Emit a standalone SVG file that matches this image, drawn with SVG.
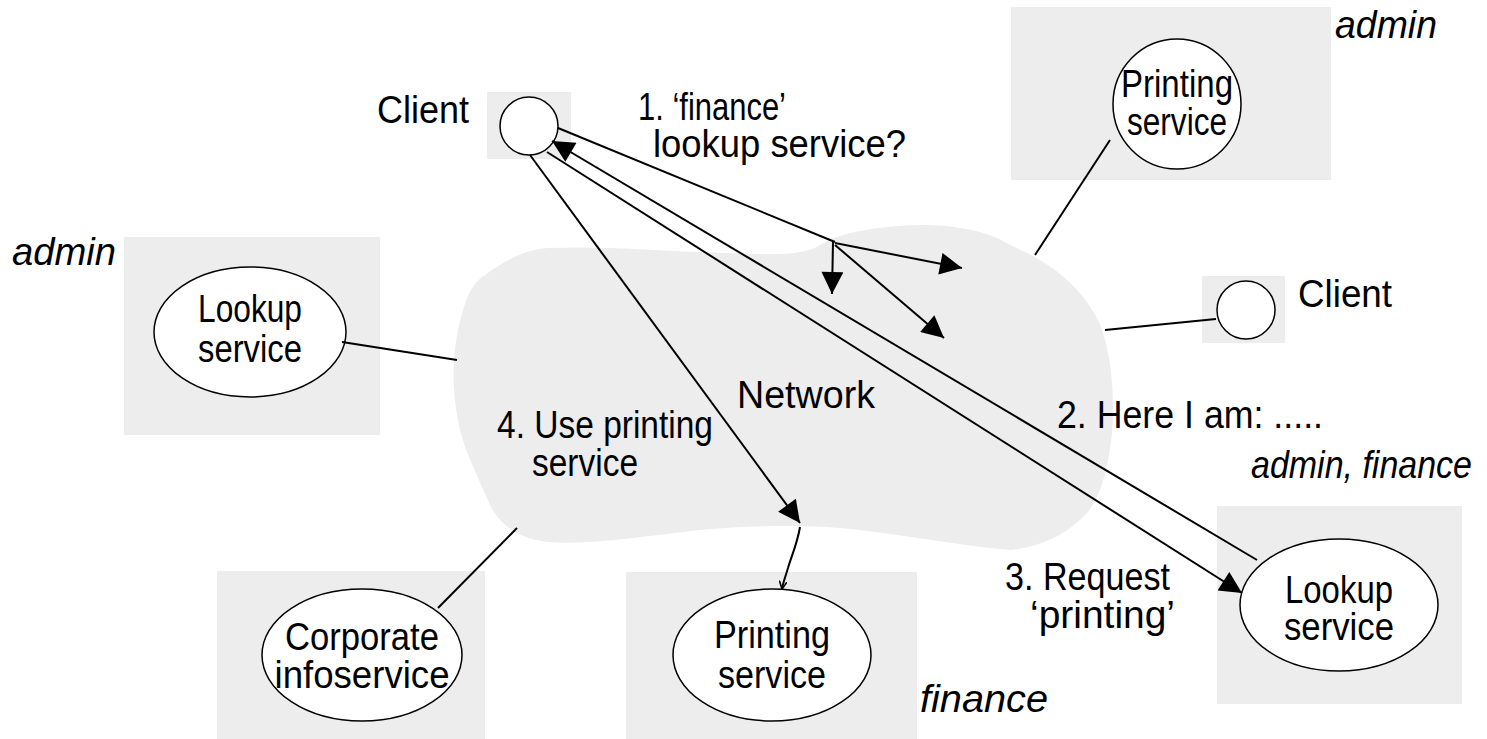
<svg xmlns="http://www.w3.org/2000/svg" width="1487" height="739" viewBox="0 0 1487 739">
<defs>
<style>
.box{fill:#ededed;stroke:none}
.ell{fill:#fff;stroke:#000;stroke-width:1.5}
.t{font-family:"Liberation Sans",Arial,sans-serif;font-size:38px;fill:#000}
.c{text-anchor:middle}
.i{font-style:italic}
.ln{stroke:#000;stroke-width:2;fill:none}
</style>
<marker id="ah" viewBox="0 0 10 10" refX="10" refY="5" markerWidth="24" markerHeight="22" markerUnits="userSpaceOnUse" orient="auto">
<path d="M0,0 L10,5 L0,10 Z" fill="#000"/>
</marker>
<marker id="ahs" viewBox="0 0 10 10" refX="10" refY="5" markerWidth="8" markerHeight="8" markerUnits="userSpaceOnUse" orient="auto">
<path d="M0,0 L10,5 L0,10" fill="none" stroke="#000" stroke-width="2"/>
</marker>
</defs>
<rect width="1487" height="739" fill="#fff"/>

<g id="network">
<path class="box" d="M547,248 C600,246 650,250 700,252 C760,254 800,258 820,245 C840,232 880,226 920,225 C960,225 990,232 1010,245 C1050,262 1080,285 1098,320 C1112,350 1115,400 1112,433 C1108,470 1100,500 1085,515 C1070,530 1050,545 1011,550 C950,545 880,530 827,527 C780,525 740,526 700,530 C640,537 590,545 549,542 C520,540 500,525 490,505 C475,470 462,445 458,420 C452,390 452,360 458,330 C465,300 470,285 485,275 C505,260 525,250 547,248 Z"/>
<text class="t" x="737" y="408" textLength="138" lengthAdjust="spacingAndGlyphs">Network</text>
</g>

<g id="client-top">
<rect class="box" x="487" y="92" width="84" height="67"/>
<circle class="ell" cx="529" cy="126" r="29" stroke-width="2"/>
<text class="t" x="377" y="123" textLength="92" lengthAdjust="spacingAndGlyphs">Client</text>
</g>

<g id="printing-admin">
<rect class="box" x="1011" y="7" width="320" height="173"/>
<ellipse class="ell" cx="1177" cy="104" rx="64" ry="65"/>
<text class="t c" x="1177" y="97" textLength="112" lengthAdjust="spacingAndGlyphs">Printing</text>
<text class="t c" x="1177" y="135" textLength="100" lengthAdjust="spacingAndGlyphs">service</text>
<text class="t i" x="1335" y="38" textLength="102" lengthAdjust="spacingAndGlyphs">admin</text>
</g>

<g id="client-right">
<rect class="box" x="1202" y="276" width="83" height="67"/>
<circle class="ell" cx="1246" cy="310" r="29" stroke-width="2"/>
<text class="t" x="1298" y="307" textLength="94" lengthAdjust="spacingAndGlyphs">Client</text>
</g>

<g id="lookup-admin">
<rect class="box" x="124" y="237" width="256" height="198"/>
<ellipse class="ell" cx="250" cy="332" rx="96" ry="65"/>
<text class="t c" x="250" y="322" textLength="104" lengthAdjust="spacingAndGlyphs">Lookup</text>
<text class="t c" x="250" y="362" textLength="104" lengthAdjust="spacingAndGlyphs">service</text>
<text class="t i" x="12" y="265" textLength="104" lengthAdjust="spacingAndGlyphs">admin</text>
</g>

<g id="corporate">
<rect class="box" x="217" y="571" width="268" height="168"/>
<ellipse class="ell" cx="362" cy="655" rx="100" ry="66"/>
<text class="t c" x="362" y="650" textLength="154" lengthAdjust="spacingAndGlyphs">Corporate</text>
<text class="t c" x="362" y="688" textLength="175" lengthAdjust="spacingAndGlyphs">infoservice</text>
</g>

<g id="printing-finance">
<rect class="box" x="626" y="572" width="291" height="167"/>
<ellipse class="ell" cx="772" cy="655" rx="99" ry="66"/>
<text class="t c" x="772" y="648" textLength="116" lengthAdjust="spacingAndGlyphs">Printing</text>
<text class="t c" x="772" y="688" textLength="108" lengthAdjust="spacingAndGlyphs">service</text>
<text class="t i" x="920" y="712" textLength="128" lengthAdjust="spacingAndGlyphs">finance</text>
</g>

<g id="lookup-adminfinance">
<rect class="box" x="1217" y="506" width="245" height="198"/>
<ellipse class="ell" cx="1339" cy="605" rx="99" ry="66"/>
<text class="t c" x="1339" y="603" textLength="108" lengthAdjust="spacingAndGlyphs">Lookup</text>
<text class="t c" x="1339" y="640" textLength="110" lengthAdjust="spacingAndGlyphs">service</text>
<text class="t i" x="1251" y="478" textLength="221" lengthAdjust="spacingAndGlyphs">admin, finance</text>
</g>

<g id="connectors">
<line class="ln" x1="1035" y1="255" x2="1110" y2="140"/>
<line class="ln" x1="1105" y1="330" x2="1216" y2="319"/>
<line class="ln" x1="342" y1="342" x2="457" y2="360"/>
<line class="ln" x1="438" y1="608" x2="517" y2="528"/>
<line class="ln" x1="558" y1="128" x2="835" y2="242"/>
<line class="ln" x1="833" y1="242" x2="832" y2="294" marker-end="url(#ah)"/>
<line class="ln" x1="835" y1="243" x2="962" y2="268" marker-end="url(#ah)"/>
<line class="ln" x1="835" y1="245" x2="944" y2="338" marker-end="url(#ah)"/>
<line class="ln" x1="1257" y1="560" x2="552" y2="141" marker-end="url(#ah)"/>
<line class="ln" x1="547" y1="152" x2="1242" y2="593" marker-end="url(#ah)"/>
<line class="ln" x1="530" y1="155" x2="800" y2="523" marker-end="url(#ah)"/>
<path class="ln" d="M800,527 C797,545 790,560 788,568 C785,578 783,583 782,589" marker-end="url(#ahs)"/>
</g>

<g id="labels">
<text class="t" x="638" y="120" textLength="148" lengthAdjust="spacingAndGlyphs">1. ‘finance’</text>
<text class="t" x="653" y="157" textLength="253" lengthAdjust="spacingAndGlyphs">lookup service?</text>
<text class="t" x="1057" y="428" textLength="266" lengthAdjust="spacingAndGlyphs">2. Here I am: .....</text>
<text class="t" x="1005" y="590" textLength="165" lengthAdjust="spacingAndGlyphs">3. Request</text>
<text class="t" x="1030" y="628" textLength="145" lengthAdjust="spacingAndGlyphs">‘printing’</text>
<text class="t" x="497" y="438" textLength="216" lengthAdjust="spacingAndGlyphs">4. Use printing</text>
<text class="t" x="532" y="476" textLength="106" lengthAdjust="spacingAndGlyphs">service</text>
</g>
</svg>
